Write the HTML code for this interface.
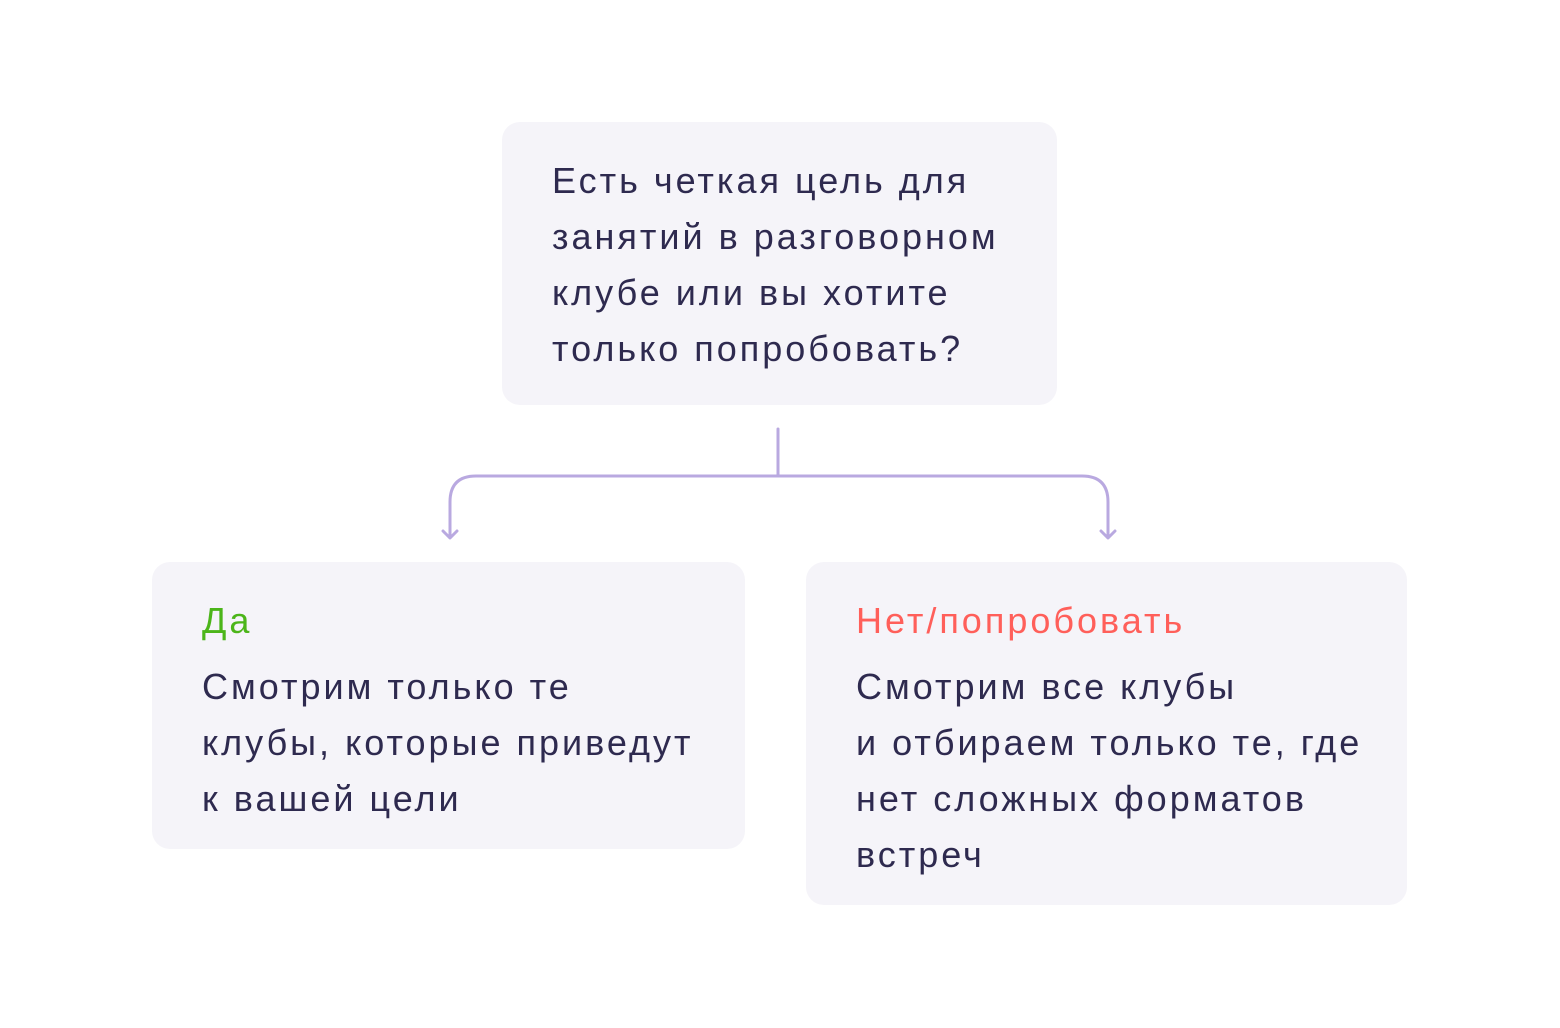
<!DOCTYPE html>
<html><head><meta charset="utf-8"><style>
body{margin:0;width:1560px;height:1028px;background:#fff;position:relative;font-family:"Liberation Sans",sans-serif;color:#2e2a4f;overflow:hidden}
.b{position:absolute;background:#f5f4f9;border-radius:18px}
.t{position:absolute;font-size:36px;line-height:56px;white-space:nowrap;letter-spacing:3px}
</style></head><body>
<div class="b" style="left:502px;top:122px;width:555px;height:283px"></div>
<div class="b" style="left:152px;top:562px;width:593px;height:287px"></div>
<div class="b" style="left:806px;top:562px;width:601px;height:343px"></div>
<div class="t" style="left:552px;top:153px">Есть четкая цель для<br>занятий в разговорном<br>клубе или вы хотите<br>только попробовать?</div>
<div class="t" style="left:202px;top:593px;color:#4cb51a">Да</div>
<div class="t" style="left:202px;top:659px">Смотрим только те<br>клубы, которые приведут<br>к вашей цели</div>
<div class="t" style="left:856px;top:593px;color:#ff5f5a">Нет/попробовать</div>
<div class="t" style="left:856px;top:659px">Смотрим все клубы<br>и отбираем только те, где<br>нет сложных форматов<br>встреч</div>
<svg width="1560" height="1028" style="position:absolute;left:0;top:0" fill="none" stroke="#b9a9e0" stroke-width="3" stroke-linecap="round" stroke-linejoin="round">
<path d="M778 429V475"/>
<path d="M450 537V502Q450 476 476 476H1082Q1108 476 1108 502V537"/>
<path d="M443 531L450 538L457 531M1101 531L1108 538L1115 531"/>
</svg>
</body></html>
